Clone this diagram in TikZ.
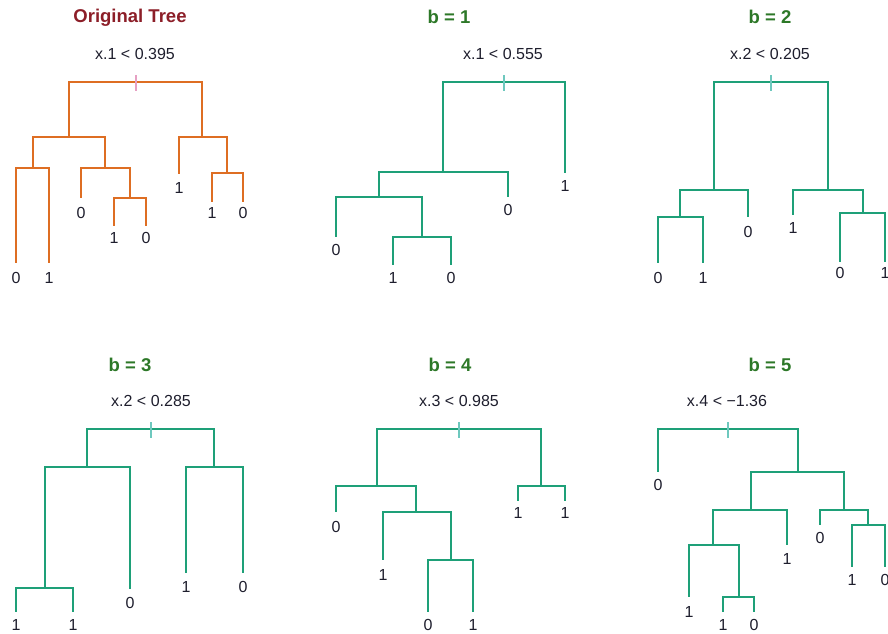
\documentclass[tikz,border=0pt]{standalone}
\usepackage{fontspec}
\setmainfont{Liberation Sans}
\definecolor{orangeline}{RGB}{222,110,35}
\definecolor{greenline}{RGB}{30,160,120}
\definecolor{titlered}{RGB}{140,30,40}
\definecolor{titlegreen}{RGB}{45,120,40}
\definecolor{txt}{RGB}{30,30,45}
\definecolor{tickpink}{RGB}{230,160,195}
\definecolor{tickcyan}{RGB}{110,200,190}
\tikzset{
  orangeedge/.style={draw=orangeline, line width=1.9pt},
  greenedge/.style={draw=greenline, line width=1.9pt},
  orangetick/.style={draw=tickpink, line width=1.9pt},
  greentick/.style={draw=tickcyan, line width=1.9pt},
  lab/.style={text=txt, inner sep=0pt, font=\fontsize{16}{18}\selectfont},
  redtitle/.style={text=titlered, inner sep=0pt, font=\fontsize{18.5}{21}\selectfont\bfseries},
  greentitle/.style={text=titlegreen, inner sep=0pt, font=\fontsize{18.5}{21}\selectfont\bfseries},
}
\begin{document}
\begin{tikzpicture}[x=1pt, y=-1pt]
\useasboundingbox (0,0) rectangle (888,633);

% ---------------- Original Tree ----------------
\node[redtitle] (titleA) at (130,18) {Original Tree};
\node[lab] (splitA) at (135,54) {x.1 < 0.395};
\coordinate (A0) at (136,82);
\coordinate (A1) at (69,137);
\coordinate (A2) at (202,137);
\coordinate (A11) at (33,168);
\coordinate (A12) at (105,168);
\coordinate (A111) at (16,263);
\coordinate (A112) at (49,263);
\coordinate (A121) at (81,198);
\coordinate (A122) at (130,198);
\coordinate (A1221) at (114,226);
\coordinate (A1222) at (146,226);
\coordinate (A21) at (179,174);
\coordinate (A22) at (227,173);
\coordinate (A221) at (212,202);
\coordinate (A222) at (243,202);
\draw[orangeedge] (A0) -| (A1);
\draw[orangeedge] (A0) -| (A2);
\draw[orangeedge] (A1) -| (A11);
\draw[orangeedge] (A1) -| (A12);
\draw[orangeedge] (A11) -| (A111);
\draw[orangeedge] (A11) -| (A112);
\draw[orangeedge] (A12) -| (A121);
\draw[orangeedge] (A12) -| (A122);
\draw[orangeedge] (A122) -| (A1221);
\draw[orangeedge] (A122) -| (A1222);
\draw[orangeedge] (A2) -| (A21);
\draw[orangeedge] (A2) -| (A22);
\draw[orangeedge] (A22) -| (A221);
\draw[orangeedge] (A22) -| (A222);
\draw[orangetick] ([yshift=7pt]A0) -- ([yshift=-9pt]A0);
\node[lab] (tA111) at (16,278) {0};
\node[lab] (tA112) at (49,278) {1};
\node[lab] (tA121) at (81,213) {0};
\node[lab] (tA1221) at (114,238) {1};
\node[lab] (tA1222) at (146,238) {0};
\node[lab] (tA21) at (179,188) {1};
\node[lab] (tA221) at (212,213) {1};
\node[lab] (tA222) at (243,213) {0};

% ---------------- b = 1 ----------------
\node[greentitle] (titleB) at (449,17) {b = 1};
\node[lab] (splitB) at (503,54) {x.1 < 0.555};
\coordinate (B0) at (504,82);
\coordinate (B1) at (443,172);
\coordinate (B2) at (565,173);
\coordinate (B11) at (379,197);
\coordinate (B12) at (508,197);
\coordinate (B111) at (336,237);
\coordinate (B112) at (422,237);
\coordinate (B1121) at (393,265);
\coordinate (B1122) at (451,265);
\draw[greenedge] (B0) -| (B1);
\draw[greenedge] (B0) -| (B2);
\draw[greenedge] (B1) -| (B11);
\draw[greenedge] (B1) -| (B12);
\draw[greenedge] (B11) -| (B111);
\draw[greenedge] (B11) -| (B112);
\draw[greenedge] (B112) -| (B1121);
\draw[greenedge] (B112) -| (B1122);
\draw[greentick] ([yshift=7pt]B0) -- ([yshift=-9pt]B0);
\node[lab] (tB2) at (565,186) {1};
\node[lab] (tB12) at (508,210) {0};
\node[lab] (tB111) at (336,250) {0};
\node[lab] (tB1121) at (393,278) {1};
\node[lab] (tB1122) at (451,278) {0};

% ---------------- b = 2 ----------------
\node[greentitle] (titleC) at (770,17) {b = 2};
\node[lab] (splitC) at (770,54) {x.2 < 0.205};
\coordinate (C0) at (771,82);
\coordinate (C1) at (714,190);
\coordinate (C2) at (828,190);
\coordinate (C11) at (680,217);
\coordinate (C12) at (748,217);
\coordinate (C111) at (658,263);
\coordinate (C112) at (703,263);
\coordinate (C21) at (793,215);
\coordinate (C22) at (863,213);
\coordinate (C221) at (840,262);
\coordinate (C222) at (885,262);
\draw[greenedge] (C0) -| (C1);
\draw[greenedge] (C0) -| (C2);
\draw[greenedge] (C1) -| (C11);
\draw[greenedge] (C1) -| (C12);
\draw[greenedge] (C11) -| (C111);
\draw[greenedge] (C11) -| (C112);
\draw[greenedge] (C2) -| (C21);
\draw[greenedge] (C2) -| (C22);
\draw[greenedge] (C22) -| (C221);
\draw[greenedge] (C22) -| (C222);
\draw[greentick] ([yshift=7pt]C0) -- ([yshift=-9pt]C0);
\node[lab] (tC12) at (748,232) {0};
\node[lab] (tC111) at (658,278) {0};
\node[lab] (tC112) at (703,278) {1};
\node[lab] (tC21) at (793,228) {1};
\node[lab] (tC221) at (840,273) {0};
\node[lab] (tC222) at (885,273) {1};

% ---------------- b = 3 ----------------
\node[greentitle] (titleD) at (130,365) {b = 3};
\node[lab] (splitD) at (151,401) {x.2 < 0.285};
\coordinate (D0) at (151,429);
\coordinate (D1) at (87,467);
\coordinate (D2) at (214,467);
\coordinate (D11) at (45,588);
\coordinate (D12) at (130,589);
\coordinate (D111) at (16,612);
\coordinate (D112) at (73,612);
\coordinate (D21) at (186,573);
\coordinate (D22) at (243,573);
\draw[greenedge] (D0) -| (D1);
\draw[greenedge] (D0) -| (D2);
\draw[greenedge] (D1) -| (D11);
\draw[greenedge] (D1) -| (D12);
\draw[greenedge] (D11) -| (D111);
\draw[greenedge] (D11) -| (D112);
\draw[greenedge] (D2) -| (D21);
\draw[greenedge] (D2) -| (D22);
\draw[greentick] ([yshift=7pt]D0) -- ([yshift=-9pt]D0);
\node[lab] (tD12) at (130,603) {0};
\node[lab] (tD111) at (16,625) {1};
\node[lab] (tD112) at (73,625) {1};
\node[lab] (tD21) at (186,587) {1};
\node[lab] (tD22) at (243,587) {0};

% ---------------- b = 4 ----------------
\node[greentitle] (titleE) at (450,365) {b = 4};
\node[lab] (splitE) at (459,401) {x.3 < 0.985};
\coordinate (E0) at (459,429);
\coordinate (E1) at (377,486);
\coordinate (E2) at (541,486);
\coordinate (E11) at (336,512);
\coordinate (E12) at (416,512);
\coordinate (E121) at (383,560);
\coordinate (E122) at (451,560);
\coordinate (E1221) at (428,612);
\coordinate (E1222) at (473,612);
\coordinate (E21) at (518,501);
\coordinate (E22) at (565,501);
\draw[greenedge] (E0) -| (E1);
\draw[greenedge] (E0) -| (E2);
\draw[greenedge] (E1) -| (E11);
\draw[greenedge] (E1) -| (E12);
\draw[greenedge] (E12) -| (E121);
\draw[greenedge] (E12) -| (E122);
\draw[greenedge] (E122) -| (E1221);
\draw[greenedge] (E122) -| (E1222);
\draw[greenedge] (E2) -| (E21);
\draw[greenedge] (E2) -| (E22);
\draw[greentick] ([yshift=7pt]E0) -- ([yshift=-9pt]E0);
\node[lab] (tE11) at (336,527) {0};
\node[lab] (tE121) at (383,575) {1};
\node[lab] (tE1221) at (428,625) {0};
\node[lab] (tE1222) at (473,625) {1};
\node[lab] (tE21) at (518,513) {1};
\node[lab] (tE22) at (565,513) {1};

% ---------------- b = 5 ----------------
\node[greentitle] (titleF) at (770,365) {b = 5};
\node[lab] (splitF) at (727,401) {x.4 < −1.36};
\coordinate (F0) at (728,429);
\coordinate (F1) at (658,472);
\coordinate (F2) at (798,472);
\coordinate (F21) at (751,510);
\coordinate (F22) at (844,510);
\coordinate (F211) at (713,545);
\coordinate (F212) at (787,545);
\coordinate (F2111) at (689,597);
\coordinate (F2112) at (739,597);
\coordinate (F21121) at (723,612);
\coordinate (F21122) at (754,612);
\coordinate (F221) at (820,525);
\coordinate (F222) at (868,525);
\coordinate (F2221) at (852,567);
\coordinate (F2222) at (885,567);
\draw[greenedge] (F0) -| (F1);
\draw[greenedge] (F0) -| (F2);
\draw[greenedge] (F2) -| (F21);
\draw[greenedge] (F2) -| (F22);
\draw[greenedge] (F21) -| (F211);
\draw[greenedge] (F21) -| (F212);
\draw[greenedge] (F211) -| (F2111);
\draw[greenedge] (F211) -| (F2112);
\draw[greenedge] (F2112) -| (F21121);
\draw[greenedge] (F2112) -| (F21122);
\draw[greenedge] (F22) -| (F221);
\draw[greenedge] (F22) -| (F222);
\draw[greenedge] (F222) -| (F2221);
\draw[greenedge] (F222) -| (F2222);
\draw[greentick] ([yshift=7pt]F0) -- ([yshift=-9pt]F0);
\node[lab] (tF1) at (658,485) {0};
\node[lab] (tF212) at (787,559) {1};
\node[lab] (tF2111) at (689,612) {1};
\node[lab] (tF21121) at (723,625) {1};
\node[lab] (tF21122) at (754,625) {0};
\node[lab] (tF221) at (820,538) {0};
\node[lab] (tF2221) at (852,580) {1};
\node[lab] (tF2222) at (885,580) {0};
\end{tikzpicture}
\end{document}
